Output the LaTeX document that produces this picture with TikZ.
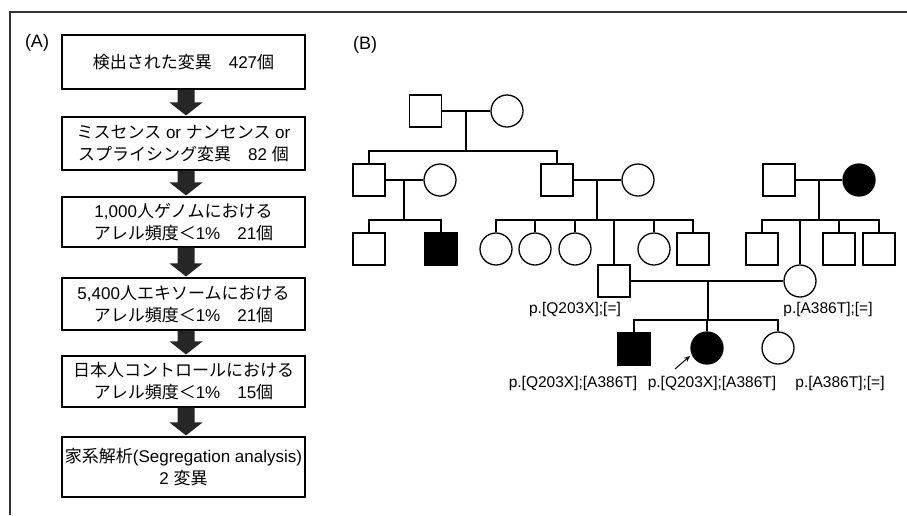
\documentclass[tikz,border=0pt]{standalone}
\usepackage{fontspec}
\setmainfont{Liberation Sans}
\newfontfamily\jpfont{Noto Sans CJK JP}
\newcommand\J[1]{{\jpfont #1}}
\usetikzlibrary{arrows.meta,calc}
\newcommand\blockarrow[2]{%
  \fill[bigarrow] let \p1=(#1.south), \p2=(#2.north) in
    ({\x1-6pt},\y1) -- ({\x1+11pt},\y1) -- ({\x1+11pt},{\y2+14pt}) --
    ({\x1+19pt},{\y2+14pt}) -- ({\x1+2.5pt},{\y2+1pt}) --
    ({\x1-14pt},{\y2+14pt}) -- ({\x1-6pt},{\y2+14pt}) -- cycle;}
\begin{document}
\begin{tikzpicture}[x=1pt,y=-1pt,
  sq/.style={draw, line width=1.3pt, minimum size=32pt, inner sep=0pt},
  ci/.style={draw, circle, line width=1.3pt, minimum size=32pt, inner sep=0pt},
  aff/.style={fill=black},
  ln/.style={line width=1.3pt},
  fbox/.style={draw, line width=1.1pt, minimum width=243pt, inner sep=0pt, align=center,
    font=\fontsize{17}{22}\selectfont},
  lab/.style={font=\fontsize{15.5}{18}\selectfont, inner sep=0pt},
  panel/.style={font=\fontsize{18}{20}\selectfont, inner sep=0pt},
  bigarrow/.style={fill=black!85}]
\useasboundingbox (0,0) rectangle (907,515);
% frame
\draw[line width=1.2pt, black!80] (10,515) -- (10,12) -- (907,12);
% (A) flowchart
\node[panel] (pA) at (37,43) {(A)};
\node[fbox, minimum height=54pt] (b1) at (183.5,62) {\J{検出された変異　}427\J{個}};
\node[fbox, minimum height=53pt] (b2) at (183.5,143.5) {\J{ミスセンス} or \J{ナンセンス} or\\\J{スプライシング変異　}82 \J{個}};
\node[fbox, minimum height=50pt] (b3) at (183.5,222) {1,000\J{人ゲノムにおける}\\\J{アレル頻度＜}1\%\J{　}21\J{個}};
\node[fbox, minimum height=52pt] (b4) at (183.5,304) {5,400\J{人エキソームにおける}\\\J{アレル頻度＜}1\%\J{　}21\J{個}};
\node[fbox, minimum height=51pt] (b5) at (183.5,381.5) {\J{日本人コントロールにおける}\\\J{アレル頻度＜}1\%\J{　}15\J{個}};
\node[fbox, minimum height=60pt] (b6) at (183.5,467) {\J{家系解析}(Segregation analysis)\\2 \J{変異}};
\blockarrow{b1}{b2}
\blockarrow{b2}{b3}
\blockarrow{b3}{b4}
\blockarrow{b4}{b5}
\blockarrow{b5}{b6}
% (B) pedigree
\node[panel] (pB) at (365,45) {(B)};
% generation I
\node[sq] (I1) at (425.5,111) {};
\node[ci] (I2) at (507,111) {};
% generation II
\node[sq] (II1) at (369,180) {};
\node[ci] (II2) at (440,180) {};
\node[sq] (II3) at (557,180) {};
\node[ci] (II4) at (638,180) {};
\node[sq] (II5) at (779,180) {};
\node[ci, aff] (II6) at (859,180) {};
% generation III
\node[sq] (III1) at (369,249) {};
\node[sq, aff] (III2) at (441,249) {};
\node[ci] (III3) at (496,249) {};
\node[ci] (III4) at (535,249) {};
\node[ci] (III5) at (575,249) {};
\node[ci] (III6) at (654,249) {};
\node[sq] (III7) at (693,249) {};
\node[sq] (III8) at (762,249) {};
\node[sq] (III9) at (839,249) {};
\node[sq] (III10) at (879,249) {};
\node[sq] (F) at (614,281) {};
\node[ci] (M) at (800,281) {};
% generation IV
\node[sq, aff] (IV1) at (634,349) {};
\node[ci, aff] (IV2) at (707,348) {};
\node[ci] (IV3) at (778,348) {};
% mating / descent lines
\coordinate (m1) at (466,111); \coordinate (s1) at (466,151);
\coordinate (m2) at (404,180); \coordinate (s2) at (404,220);
\coordinate (m3) at (597,180); \coordinate (s3) at (597,220);
\coordinate (m4) at (819,180); \coordinate (s4) at (819,220);
\coordinate (m5) at (708,281); \coordinate (s5) at (708,320);
\draw[ln] (I1) -- (I2);
\draw[ln] (m1) -- (s1);
\draw[ln] (II1.north) |- (s1) -| (II3.north);
\draw[ln] (II1) -- (II2);
\draw[ln] (m2) -- (s2);
\draw[ln] (III1.north) |- (s2) -| (III2.north);
\draw[ln] (II3) -- (II4);
\draw[ln] (m3) -- (s3);
\draw[ln] (III3.north) |- (s3) -| (III7.north);
\draw[ln] (III4.north) -- (III4.north |- s3);
\draw[ln] (III5.north) -- (III5.north |- s3);
\draw[ln] (III6.north) -- (III6.north |- s3);
\draw[ln] (F.north) -- (F.north |- s3);
\draw[ln] (II5) -- (II6);
\draw[ln] (m4) -- (s4);
\draw[ln] (III8.north) |- (s4) -| (III10.north);
\draw[ln] (III9.north) -- (III9.north |- s4);
\draw[ln] (M.north) -- (M.north |- s4);
\draw[ln] (F) -- (M);
\draw[ln] (m5) -- (s5);
\draw[ln] (IV1.north) |- (s5) -| (IV3.north);
\draw[ln] (IV2.north) -- (IV2.north |- s5);
% proband arrow
\coordinate (pa) at (675,369); \coordinate (pb) at (690,356);
\draw[line width=1pt, -{Stealth[length=6pt,width=5pt]}] (pa) -- (pb);
% genotype labels
\node[lab] (gF) at (575,309) {p.[Q203X];[=]};
\node[lab] (gM) at (828,309) {p.[A386T];[=]};
\node[lab] (g1) at (573,383) {p.[Q203X];[A386T]};
\node[lab] (g2) at (712,383) {p.[Q203X];[A386T]};
\node[lab] (g3) at (840,383) {p.[A386T];[=]};
\end{tikzpicture}
\end{document}
